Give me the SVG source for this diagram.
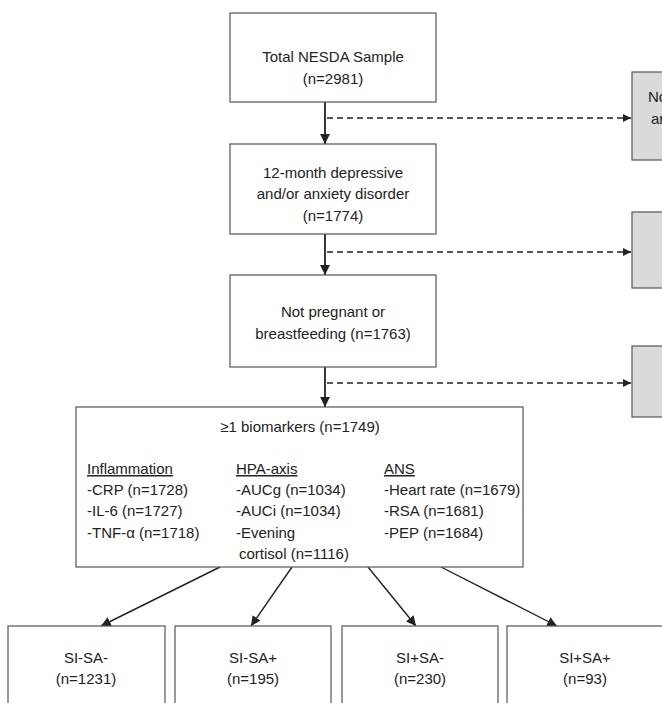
<svg xmlns="http://www.w3.org/2000/svg" width="662" height="703" viewBox="0 0 662 703">
<style>
.box{fill:#fff;stroke:#555;stroke-width:1.2}
.gbox{fill:#dadadb;stroke:#555;stroke-width:1.2}
text{font-family:"Liberation Sans",Arial,sans-serif;font-size:15px;fill:#222}
.c{text-anchor:middle}
.solid{stroke:#222;stroke-width:1.8;fill:none}
.thin{stroke:#222;stroke-width:1.4;fill:none}
.dash{stroke:#222;stroke-width:1.5;stroke-dasharray:6 4;fill:none}
</style>
<defs>
<marker id="ah" viewBox="0 0 10 10" refX="10" refY="5" markerWidth="5.5" markerHeight="5.5" orient="auto" markerUnits="strokeWidth"><path d="M0,0 L10,5 L0,10 z" fill="#222"/></marker>
<marker id="ah2" viewBox="0 0 10 10" refX="10" refY="5" markerWidth="7" markerHeight="7" orient="auto" markerUnits="strokeWidth"><path d="M0,0 L10,5 L0,10 z" fill="#222"/></marker>
</defs>
<g id="connectors">
<line class="solid" x1="325" y1="102" x2="325" y2="144" marker-end="url(#ah)"/>
<line class="solid" x1="325" y1="234" x2="325" y2="275" marker-end="url(#ah)"/>
<line class="solid" x1="325" y1="367" x2="325" y2="407" marker-end="url(#ah)"/>
<line class="dash" x1="327" y1="118" x2="631" y2="118" marker-end="url(#ah)"/>
<line class="dash" x1="327" y1="252" x2="631" y2="252" marker-end="url(#ah)"/>
<line class="dash" x1="327" y1="383" x2="631" y2="383" marker-end="url(#ah)"/>
<line class="thin" x1="220" y1="567" x2="101" y2="626" marker-end="url(#ah2)"/>
<line class="thin" x1="292" y1="567" x2="251" y2="626" marker-end="url(#ah2)"/>
<line class="thin" x1="368" y1="567" x2="416" y2="626" marker-end="url(#ah2)"/>
<line class="thin" x1="441" y1="567" x2="557" y2="626" marker-end="url(#ah2)"/>
</g>
<g id="n1"><rect class="box" x="230" y="13" width="206" height="89"/>
<text class="c" x="333" y="62">Total NESDA Sample</text><text class="c" x="333" y="84">(n=2981)</text></g>
<g id="n2"><rect class="box" x="230" y="144" width="206" height="90"/>
<text class="c" x="333" y="178">12-month depressive</text><text class="c" x="333" y="199">and/or anxiety disorder</text><text class="c" x="333" y="221">(n=1774)</text></g>
<g id="n3"><rect class="box" x="230" y="275" width="206" height="92"/>
<text class="c" x="333" y="317">Not pregnant or</text><text class="c" x="333" y="339">breastfeeding (n=1763)</text></g>
<g id="x1"><rect class="gbox" x="632" y="72" width="40" height="88"/>
<text x="648" y="102">No</text><text x="651" y="124">ar</text></g>
<g id="x2"><rect class="gbox" x="632" y="212" width="40" height="76"/></g>
<g id="x3"><rect class="gbox" x="632" y="346" width="40" height="71"/></g>
<g id="n4"><rect class="box" x="76" y="407" width="447" height="160"/>
<text class="c" x="300" y="432">≥1 biomarkers (n=1749)</text>
<text x="87" y="474" text-decoration="underline">Inflammation</text>
<text x="87" y="495">-CRP (n=1728)</text>
<text x="87" y="516">-IL-6 (n=1727)</text>
<text x="87" y="538">-TNF-α (n=1718)</text>
<text x="236" y="474" text-decoration="underline">HPA-axis</text>
<text x="236" y="495">-AUCg (n=1034)</text>
<text x="236" y="516">-AUCi (n=1034)</text>
<text x="236" y="538">-Evening</text>
<text x="239" y="559">cortisol (n=1116)</text>
<text x="384" y="474" text-decoration="underline">ANS</text>
<text x="384" y="495">-Heart rate (n=1679)</text>
<text x="384" y="516">-RSA (n=1681)</text>
<text x="384" y="538">-PEP (n=1684)</text></g>
<g id="g1"><rect class="box" x="8" y="626" width="157" height="90"/>
<text class="c" x="86" y="663">SI-SA-</text><text class="c" x="86" y="684">(n=1231)</text></g>
<g id="g2"><rect class="box" x="175" y="626" width="156" height="90"/>
<text class="c" x="253" y="663">SI-SA+</text><text class="c" x="253" y="684">(n=195)</text></g>
<g id="g3"><rect class="box" x="342" y="626" width="156" height="90"/>
<text class="c" x="420" y="663">SI+SA-</text><text class="c" x="420" y="684">(n=230)</text></g>
<g id="g4"><rect class="box" x="507" y="626" width="170" height="90"/>
<text class="c" x="585" y="663">SI+SA+</text><text class="c" x="585" y="684">(n=93)</text></g>
</svg>
